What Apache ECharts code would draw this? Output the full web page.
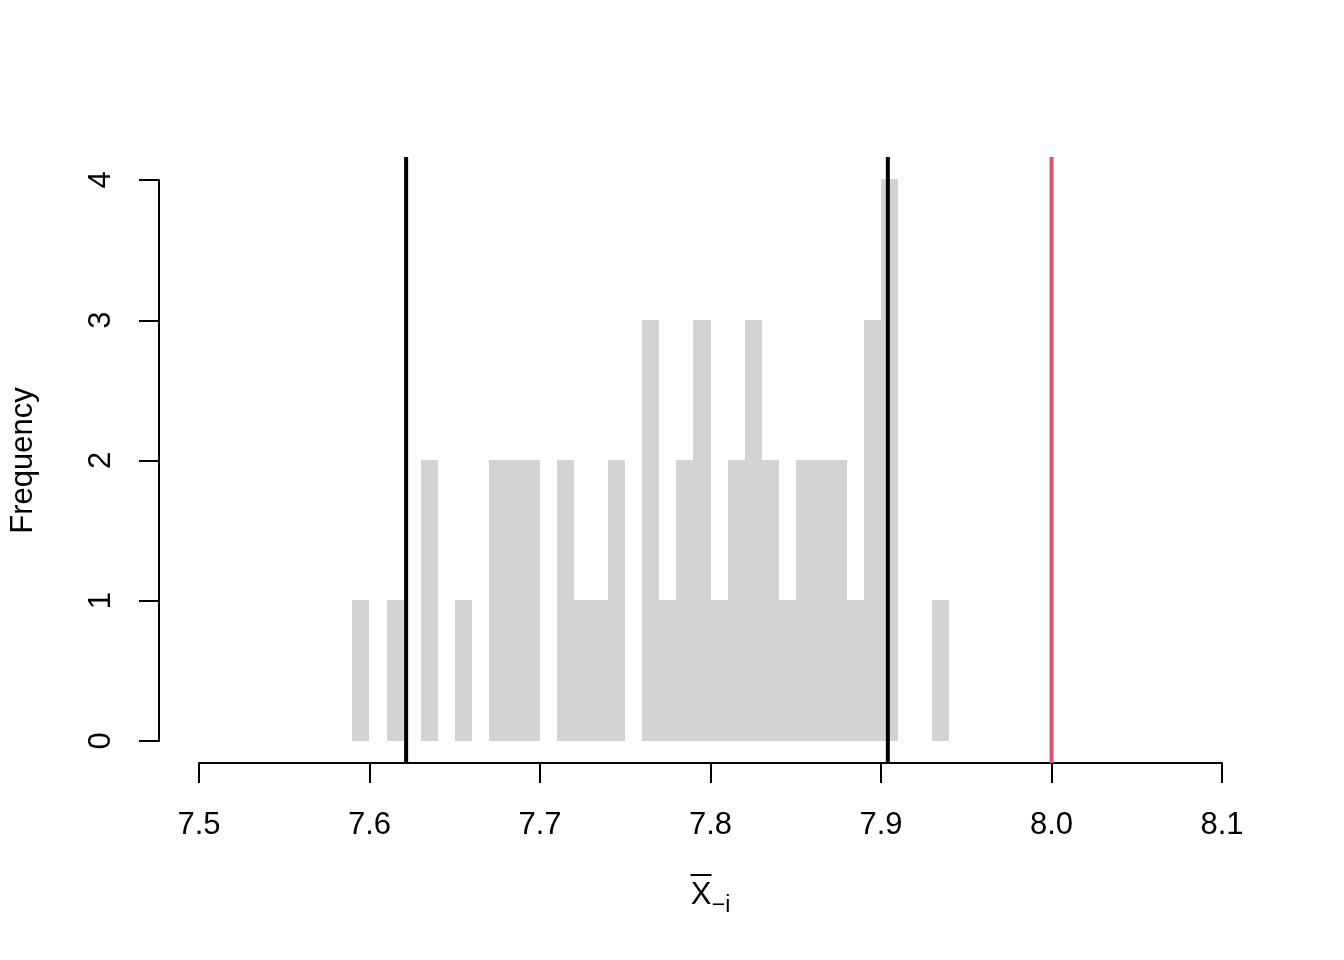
<!DOCTYPE html>
<html>
<head>
<meta charset="utf-8">
<script src="https://cdn.jsdelivr.net/npm/echarts@6/dist/echarts.min.js"></script>
<style>html,body{margin:0;padding:0;background:#fff}#c{width:1344px;height:960px}</style>
</head>
<body>
<div id="c"></div>
<script>
// Histogram bins (left edges, width 0.01) and counts
const binWidth = 0.01;
const binLeft = [7.59,7.60,7.61,7.62,7.63,7.64,7.65,7.66,7.67,7.68,7.69,7.70,7.71,7.72,7.73,7.74,7.75,7.76,7.77,7.78,7.79,7.80,7.81,7.82,7.83,7.84,7.85,7.86,7.87,7.88,7.89,7.90,7.91,7.92,7.93];
const counts  = [1,0,1,0,2,0,1,0,2,2,2,0,2,1,1,2,0,3,1,2,3,1,2,3,2,1,2,2,2,1,3,4,0,0,1];
// Vertical reference lines: [x value, colour]
const refLineX = [7.6215, 7.9040, 8.0];
const refLineColor = ['#000000', '#000000', '#DF536B'];
// Axis ticks
const xTicks = [7.5, 7.6, 7.7, 7.8, 7.9, 8.0, 8.1];
const yTicks = [0, 1, 2, 3, 4];

const FONT = 'Liberation Sans, Arial, Helvetica, sans-serif';
const chart = echarts.init(document.getElementById('c'));
const histData = binLeft.map((x, i) => [x, x + binWidth, counts[i]]);
const yLo = yTicks[0] - 0.16, yHi = yTicks[yTicks.length-1] + 0.16;

chart.setOption({
  animation: false,
  backgroundColor: '#ffffff',
  grid: [
    {left: 158, right: 81, top: 157, bottom: 197},
    {left: 199, right: 122, top: 157, bottom: 197},
    {left: 158, right: 81, top: 180, bottom: 219}
  ],
  xAxis: [
    {gridIndex: 0, type: 'value', min: xTicks[0] - 0.024, max: xTicks[xTicks.length-1] + 0.024, show: false},
    {gridIndex: 1, type: 'value', min: xTicks[0], max: xTicks[xTicks.length-1], interval: 0.1,
     axisLine: {show: true, onZero: false, lineStyle: {color: '#000', width: 2}},
     axisTick: {show: true, inside: false, length: 20, lineStyle: {color: '#000', width: 2}},
     axisLabel: {show: true, margin: 47, fontSize: 31, color: '#000', fontFamily: FONT,
       formatter: v => v.toFixed(1), showMinLabel: true, showMaxLabel: true},
     splitLine: {show: false},
     name: '{ob| }{pd| }\n{x|X}{s|\u2212i}', nameLocation: 'middle', nameGap: 111,
     nameTextStyle: {fontFamily: FONT, color: '#000',
       rich: {
         ob: {width: 21, height: 2, lineHeight: 2, fontSize: 2, backgroundColor: '#000', verticalAlign: 'top'},
         pd: {width: 19, height: 12, lineHeight: 12, fontSize: 2, verticalAlign: 'top'},
         x: {width: 21, fontSize: 31, lineHeight: 31, fontFamily: FONT, color: '#000', verticalAlign: 'bottom', padding: [0, 0, 6, 0]},
         s: {width: 19, fontSize: 23, fontFamily: FONT, color: '#000', verticalAlign: 'bottom'}
       }}
    },
    {gridIndex: 2, type: 'value', min: 0, max: 1, show: false}
  ],
  yAxis: [
    {gridIndex: 0, type: 'value', min: yLo, max: yHi, show: false},
    {gridIndex: 1, type: 'value', min: 0, max: 1, show: false},
    {gridIndex: 2, type: 'value', min: yTicks[0], max: yTicks[yTicks.length-1], interval: 1,
     axisLine: {show: true, onZero: false, lineStyle: {color: '#000', width: 2}},
     axisTick: {show: true, inside: false, length: 20, lineStyle: {color: '#000', width: 2}},
     axisLabel: {show: true, margin: 42, fontSize: 31, color: '#000', fontFamily: FONT, rotate: 90,
       showMinLabel: true, showMaxLabel: true},
     splitLine: {show: false},
     name: 'Frequency', nameLocation: 'middle', nameGap: 120,
     nameTextStyle: {fontSize: 31, fontFamily: FONT, color: '#000'}
    }
  ],
  series: [
    {
      type: 'custom', xAxisIndex: 0, yAxisIndex: 0, silent: true,
      data: histData,
      encode: {x: [0, 1], y: 2},
      renderItem: function (params, api) {
        const h = api.value(2);
        if (!h) return null;
        const p0 = api.coord([api.value(0), 0]);
        const p1 = api.coord([api.value(1), h]);
        const x0 = Math.round(p0[0]), x1 = Math.round(p1[0]);
        const y0 = Math.round(p0[1]), y1 = Math.round(p1[1]);
        return {type: 'rect', shape: {x: x0, y: y1, width: x1 - x0, height: y0 - y1},
                style: {fill: '#D3D3D3', stroke: null}};
      }
    },
    {
      type: 'custom', xAxisIndex: 0, yAxisIndex: 0, silent: true,
      data: refLineX.map((v, i) => [v, i]),
      encode: {x: 0},
      renderItem: function (params, api) {
        const v = api.value(0);
        const top = api.coord([v, yHi]);
        const bot = api.coord([v, yLo]);
        return {type: 'line', shape: {x1: top[0], y1: top[1], x2: bot[0], y2: bot[1]},
                style: {stroke: refLineColor[api.value(1)], lineWidth: 4}};
      }
    }
  ]
});
</script>
</body>
</html>
